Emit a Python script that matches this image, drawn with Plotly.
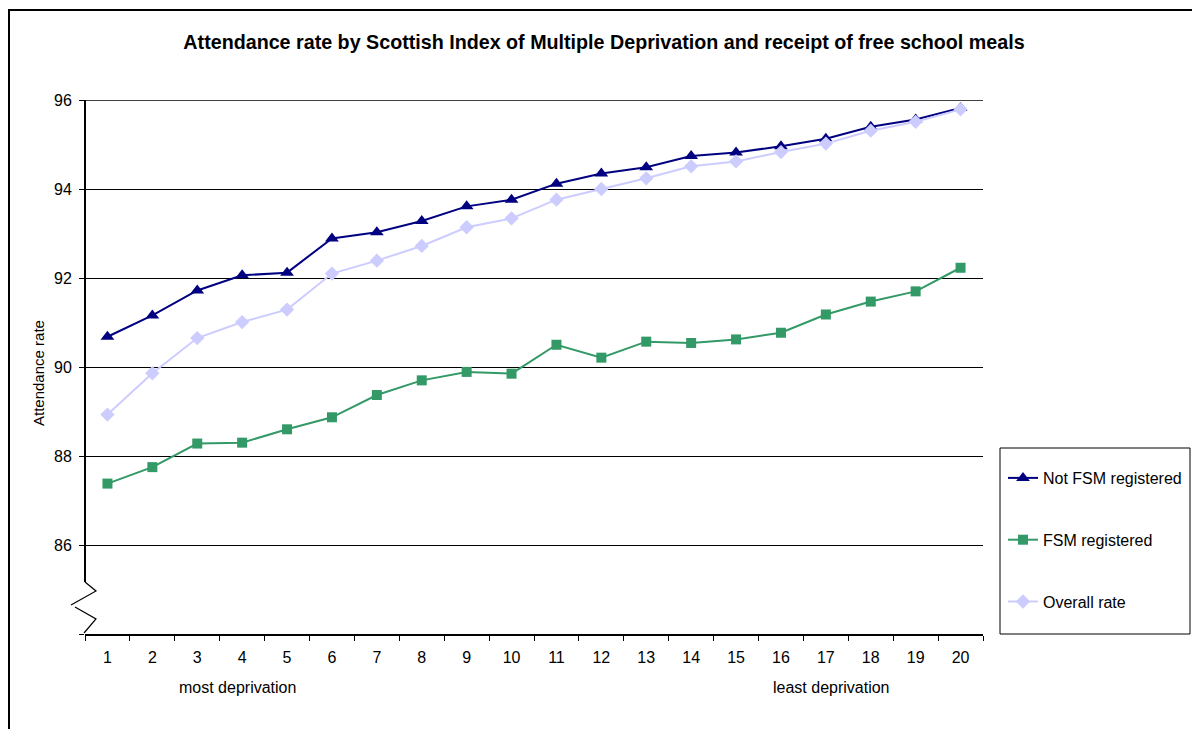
import plotly.graph_objects as go

# SIMD vigintiles (1 = most deprived, 20 = least deprived)
vigintiles = [str(i) for i in range(1, 21)]

not_fsm = [90.68, 91.16, 91.72, 92.06, 92.12, 92.89, 93.03, 93.28, 93.61, 93.76,
           94.12, 94.35, 94.49, 94.74, 94.82, 94.96, 95.13, 95.40, 95.56, 95.82]
fsm = [87.38, 87.75, 88.28, 88.30, 88.60, 88.87, 89.37, 89.70, 89.89, 89.85,
       90.50, 90.21, 90.57, 90.54, 90.62, 90.77, 91.18, 91.47, 91.70, 92.23]
overall = [88.93, 89.86, 90.65, 91.01, 91.29, 92.10, 92.39, 92.72, 93.14, 93.34,
           93.76, 94.00, 94.24, 94.51, 94.62, 94.83, 95.02, 95.31, 95.51, 95.79]

y_ticks = [84, 86, 88, 90, 92, 94, 96]
y_tick_text = ["", "86", "88", "90", "92", "94", "96"]

FONT = "Liberation Sans, Arial, sans-serif"

W, H = 1192, 729
L, R, T, B = 85, 209, 100, 95
PW, PH = W - L - R, H - T - B


def px_x(p):
    return (p - L) / PW


def px_y(p):
    return (H - B - p) / PH


def px_path(points):
    return "M " + " L ".join(f"{px_x(a):.5f} {px_y(b):.5f}" for a, b in points)


fig = go.Figure()
fig.add_trace(go.Scatter(
    x=vigintiles, y=not_fsm, name="Not FSM registered", mode="lines+markers",
    line=dict(color="#000080", width=2),
    marker=dict(symbol="triangle-up", size=12, color="#000080"),
    legendgroup="a"))
fig.add_trace(go.Scatter(
    x=vigintiles, y=fsm, name="FSM registered", mode="lines+markers",
    line=dict(color="#339966", width=2),
    marker=dict(symbol="square", size=10, color="#339966"),
    legendgroup="b"))
fig.add_trace(go.Scatter(
    x=vigintiles, y=overall, name="Overall rate", mode="lines+markers",
    line=dict(color="#CCCCFF", width=2),
    marker=dict(symbol="diamond", size=11, color="#CCCCFF"),
    legendgroup="c"))

shapes = []
# outer chart frame
shapes.append(dict(type="rect", xref="paper", yref="paper",
                   x0=px_x(9), x1=px_x(1300), y0=px_y(800), y1=px_y(10),
                   line=dict(color="black", width=2), layer="below"))
# legend box
shapes.append(dict(type="rect", xref="paper", yref="paper",
                   x0=px_x(1000), x1=px_x(1190), y0=px_y(634), y1=px_y(448),
                   line=dict(color="black", width=1)))
# top gridline at 96
shapes.append(dict(type="line", xref="paper", yref="y", x0=0, x1=1, y0=96, y1=96,
                   line=dict(color="black", width=1.5), layer="below"))
# value axis line, interrupted by the break marker
shapes.append(dict(type="line", xref="paper", yref="paper", x0=0, x1=0,
                   y0=px_y(582), y1=1, line=dict(color="black", width=2)))
shapes.append(dict(type="path", xref="paper", yref="paper",
                   path=px_path([(85, 582), (96, 591), (71, 605)]),
                   line=dict(color="black", width=1.2)))
shapes.append(dict(type="path", xref="paper", yref="paper",
                   path=px_path([(75, 607), (96, 619), (84, 633)]),
                   line=dict(color="black", width=1.2)))

annotations = [
    dict(text="Attendance rate", xref="paper", yref="paper",
         x=px_x(38), y=px_y(373), textangle=-90, showarrow=False,
         xanchor="center", yanchor="middle",
         font=dict(family=FONT, size=15, color="black")),
    dict(text="most deprivation", xref="paper", yref="paper",
         x=px_x(237), y=px_y(687), showarrow=False,
         xanchor="center", yanchor="middle",
         font=dict(family=FONT, size=16, color="black")),
    dict(text="least deprivation", xref="paper", yref="paper",
         x=px_x(831), y=px_y(687), showarrow=False,
         xanchor="center", yanchor="middle",
         font=dict(family=FONT, size=16, color="black")),
]

fig.update_layout(
    width=W, height=H,
    margin=dict(l=L, r=R, t=T, b=B, pad=0, autoexpand=False),
    paper_bgcolor="white", plot_bgcolor="white",
    font=dict(family=FONT, size=16, color="black"),
    title=dict(text="<b>Attendance rate by Scottish Index of Multiple Deprivation and receipt of free school meals</b>",
               x=px_x(604), xref="paper", xanchor="center",
               y=1 - 42 / H, yanchor="middle",
               font=dict(family=FONT, size=19.7, color="black")),
    xaxis=dict(type="category", range=[-0.5, 19.5], tickson="boundaries",
               ticks="outside", ticklen=5, tickcolor="black", tickwidth=1,
               showline=True, linecolor="black", linewidth=2,
               showgrid=False, zeroline=False, ticklabelstandoff=8,
               tickfont=dict(family=FONT, size=16, color="black")),
    yaxis=dict(range=[84, 96], tickvals=y_ticks, ticktext=y_tick_text,
               ticks="outside", ticklen=5, tickcolor="black", tickwidth=1,
               showline=False, showgrid=True, gridcolor="black", gridwidth=1,
               zeroline=False, ticklabelstandoff=4,
               tickfont=dict(family=FONT, size=16, color="black")),
    legend=dict(x=px_x(1003), y=px_y(461), xanchor="left", yanchor="top",
                bgcolor="rgba(0,0,0,0)", borderwidth=0,
                tracegroupgap=38, itemwidth=30,
                font=dict(family=FONT, size=16, color="black")),
    shapes=shapes,
    annotations=annotations,
)

fig.write_html("out.html")
